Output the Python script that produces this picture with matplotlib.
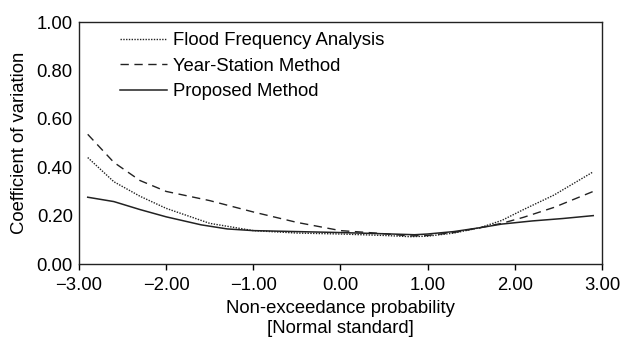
import matplotlib.pyplot as plt

plt.rcParams['font.family'] = ['Liberation Sans', 'DejaVu Sans']

# values
x_ffa = [-2.90, -2.60, -2.30, -2.00, -1.50, -1.00, -0.50, 0.00, 0.50, 0.80, 1.00, 1.30, 1.60, 1.85, 2.10, 2.45, 2.90]
cv_ffa = [0.44, 0.34, 0.28, 0.23, 0.168, 0.138, 0.128, 0.124, 0.118, 0.113, 0.115, 0.128, 0.150, 0.180, 0.225, 0.285, 0.381]

x_ysm = [-2.90, -2.60, -2.30, -2.00, -1.50, -1.00, -0.50, 0.00, 0.40, 0.80, 1.00, 1.30, 1.60, 1.85, 2.10, 2.45, 2.90]
cv_ysm = [0.536, 0.42, 0.345, 0.30, 0.262, 0.215, 0.172, 0.138, 0.128, 0.116, 0.118, 0.130, 0.150, 0.168, 0.193, 0.234, 0.30]

x_prop = [-2.90, -2.60, -2.30, -2.00, -1.60, -1.30, -1.00, -0.50, 0.00, 0.50, 0.85, 1.00, 1.30, 1.60, 1.85, 2.20, 2.55, 2.90]
cv_prop = [0.276, 0.258, 0.225, 0.195, 0.162, 0.145, 0.138, 0.134, 0.130, 0.125, 0.121, 0.124, 0.134, 0.150, 0.165, 0.178, 0.188, 0.200]

xticks = [-3, -2, -1, 0, 1, 2, 3]
yticks = [0.0, 0.2, 0.4, 0.6, 0.8, 1.0]

fs = 13.3

fig = plt.figure(figsize=(6.29, 3.39), dpi=100)
ax = fig.add_axes([0.1256, 0.2212, 0.8314, 0.7138])

ax.plot(x_ffa, cv_ffa, color='#222222', lw=1.0, linestyle=(0, (1, 1)), label='Flood Frequency Analysis')
ax.plot(x_ysm, cv_ysm, color='#222222', lw=1.0, linestyle=(0, (6, 4)), label='Year-Station Method')
ax.plot(x_prop, cv_prop, color='#222222', lw=1.1, linestyle='-', label='Proposed Method')

ax.set_xlim(-3, 3)
ax.set_ylim(0, 1)
ax.set_xticks(xticks)
ax.set_xticklabels(['\u22123.00', '\u22122.00', '\u22121.00', '0.00', '1.00', '2.00', '3.00'])
ax.set_yticks(yticks)
ax.set_yticklabels(['%.2f' % v for v in yticks])
ax.tick_params(axis='x', direction='out', length=4, width=1, labelsize=fs, pad=5)
ax.tick_params(axis='y', length=0, labelsize=fs, pad=4.5)
for s in ax.spines.values():
    s.set_linewidth(1.0)
    s.set_color('#222222')

ax.set_xlabel('Non-exceedance probability\n[Normal standard]', fontsize=fs, labelpad=5, linespacing=1.22)
ax.set_ylabel('Coefficient of variation', fontsize=fs, labelpad=6)

ax.legend(loc='upper left', bbox_to_anchor=(0.078, 0.957), frameon=False, fontsize=fs,
          handlelength=2.55, handletextpad=0.32, labelspacing=0.46, borderaxespad=0, borderpad=0)

fig.savefig('out.png', dpi=100)
